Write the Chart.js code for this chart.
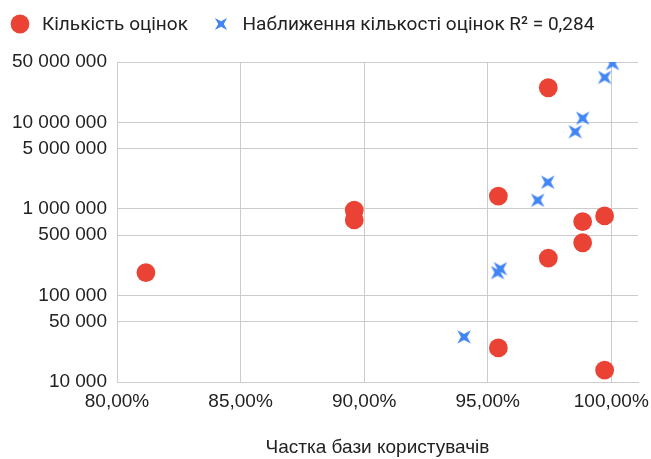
<!DOCTYPE html>
<html><head><meta charset="utf-8">
<script src="https://cdn.jsdelivr.net/npm/chart.js@4"></script>
<style>
html,body{margin:0;padding:0;background:#fff;}
#wrap{position:relative;width:651px;height:459px;overflow:hidden;}
#c{position:absolute;left:0;top:0;}
#legend{position:absolute;left:0;top:0;width:651px;height:48px;font-family:Roboto,"Liberation Sans",sans-serif;font-size:19px;color:#222;}
.item{position:absolute;top:12px;height:24px;display:flex;align-items:center;white-space:nowrap;}
.item svg{flex:none;}
.item span{margin-left:11px;line-height:24px;}
</style></head><body>
<div id="wrap"><canvas id="c" width="651" height="459"></canvas><div id="legend"></div></div>
<script>
// Data
const ratingShare = [81.17, 89.6, 89.6, 95.43, 95.43, 97.45, 97.45, 98.84, 98.84, 99.73, 99.73];
const ratingCount = [184000, 967000, 748000, 1410000, 24800, 25200000, 271000, 714000, 407000, 832000, 13700];
const trendShare = [94.04, 95.40, 95.51, 97.02, 97.43, 98.54, 98.84, 99.73, 100.05];
const trendCount = [33200, 184000, 204000, 1260000, 2040000, 7820000, 11200000, 33200000, 48000000];
const seriesNames = ['Кількість оцінок', 'Наближення кількості оцінок R² = 0,284'];
const xTitle = 'Частка бази користувачів';
const xTicks = [80, 85, 90, 95, 100];
const yTicks = [10000, 50000, 100000, 500000, 1000000, 5000000, 10000000, 50000000];

const RED = '#EA4335', BLUE = '#4285F4', GRID = '#cccccc', TEXT = '#222222';
const fmtY = v => String(Math.round(v)).replace(/\B(?=(\d{3})+(?!\d))/g, ' ');
const fmtX = v => Number(v).toFixed(2).replace('.', ',') + '%';

Chart.defaults.font.family = '"Liberation Sans", Arial, sans-serif';
Chart.defaults.font.size = 19;
Chart.defaults.color = TEXT;

// tapered X marker (4-pointed star rotated 45 degrees)
const S = 6.8, K = 3.1;
const starPts = [[-S,-S],[0,-K],[S,-S],[K,0],[S,S],[0,K],[-S,S],[-K,0]];
function makeStar(color) {
  const cv = document.createElement('canvas');
  cv.width = 20; cv.height = 20;
  const g = cv.getContext('2d');
  g.translate(10, 10);
  g.beginPath();
  starPts.forEach((p, i) => i ? g.lineTo(p[0], p[1]) : g.moveTo(p[0], p[1]));
  g.closePath();
  g.fillStyle = color;
  g.fill();
  return cv;
}
const starImg = makeStar(BLUE);

const legendLeft = [9, 209.5];
const htmlLegend = {
  id: 'htmlLegend',
  afterUpdate(chart) {
    const box = document.getElementById('legend');
    box.innerHTML = '';
    chart.data.datasets.forEach((ds, i) => {
      const item = document.createElement('div');
      item.className = 'item';
      item.style.left = legendLeft[i] + 'px';
      let mark;
      if (ds.pointStyle === 'circle') {
        mark = '<svg width="22" height="22"><circle cx="11" cy="11" r="9.4" fill="' + ds.backgroundColor + '"/></svg>';
      } else {
        const pts = starPts.map(p => (p[0] * 0.9 + 11) + ',' + (p[1] * 0.9 + 11)).join(' ');
        mark = '<svg width="22" height="22"><polygon points="' + pts + '" fill="' + ds.borderColor + '"/></svg>';
      }
      item.innerHTML = mark;
      const sp = document.createElement('span');
      sp.textContent = ds.label;
      item.appendChild(sp);
      box.appendChild(item);
    });
  }
};

new Chart(document.getElementById('c'), {
  type: 'scatter',
  data: {
    datasets: [
      {
        label: seriesNames[0],
        data: ratingShare.map((x, i) => ({x, y: ratingCount[i]})),
        pointStyle: 'circle',
        pointRadius: 9.4,
        backgroundColor: RED,
        borderColor: RED,
        borderWidth: 0,
        order: 2
      },
      {
        label: seriesNames[1],
        data: trendShare.map((x, i) => ({x, y: trendCount[i]})),
        pointStyle: starImg,
        pointRadius: 8,
        backgroundColor: BLUE,
        borderColor: BLUE,
        borderWidth: 0,
        order: 1
      }
    ]
  },
  options: {
    responsive: false,
    animation: false,
    events: [],
    layout: { padding: { left: 0, right: 13, top: 62, bottom: 0 } },
    plugins: { legend: { display: false }, tooltip: { enabled: false } },
    scales: {
      x: {
        type: 'linear',
        min: 80,
        max: 101.08,
        afterBuildTicks: s => { s.ticks = xTicks.map(v => ({ value: v })); },
        afterFit: s => { s.height = 77; s.paddingLeft = 0; s.paddingRight = 0; },
        ticks: { callback: v => fmtX(v), padding: 8, autoSkip: false, maxRotation: 0, color: TEXT },
        grid: { color: GRID, drawTicks: false, lineWidth: 1 },
        border: { color: GRID },
        title: { display: true, text: xTitle, color: TEXT, padding: { top: 0, bottom: 0 } }
      },
      y: {
        type: 'logarithmic',
        min: 10000,
        max: 50000000,
        afterBuildTicks: s => { s.ticks = yTicks.map(v => ({ value: v })); },
        afterFit: s => { s.width = 117; s.paddingTop = 0; s.paddingBottom = 0; },
        ticks: { callback: v => fmtY(v), padding: 10, autoSkip: false, color: TEXT },
        grid: { color: GRID, drawTicks: false, lineWidth: 1 },
        border: { color: GRID }
      }
    }
  },
  plugins: [htmlLegend]
});
</script>
</body></html>
